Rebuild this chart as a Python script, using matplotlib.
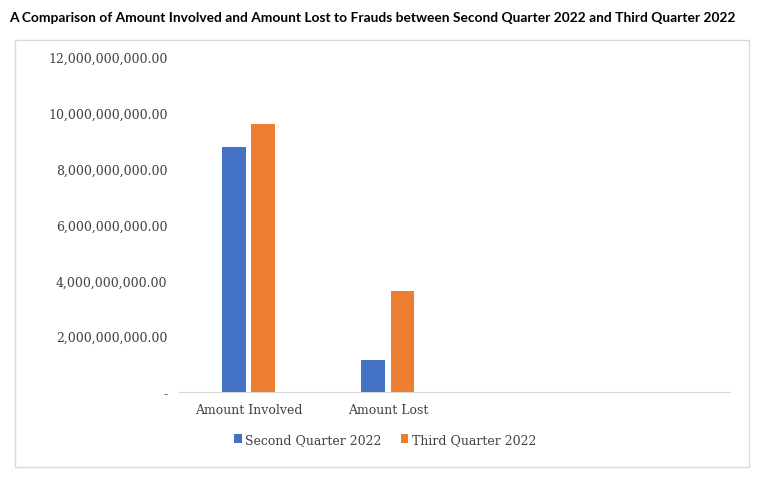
import matplotlib
matplotlib.use("Agg")
import matplotlib.pyplot as plt
import numpy as np
from matplotlib.ticker import FuncFormatter

categories = ["Amount Involved", "Amount Lost", "", ""]
q2_values = [8.78e9, 1.15e9, 0, 0]
q3_values = [9.6e9, 3.6e9, 0, 0]
series_names = ["Second Quarter 2022", "Third Quarter 2022"]
yticks = np.arange(0, 12.01e9, 2e9)

fig = plt.figure(figsize=(7.6, 4.85), dpi=100, facecolor="white")
fig.text(0.012, 0.962, "A Comparison of Amount Involved and Amount Lost to Frauds between Second Quarter 2022 and Third Quarter 2022",
         fontsize=9.9, fontweight="bold", family="Lato", ha="left", va="center")
fig.patches.append(plt.Rectangle((0.02, 0.035), 0.965, 0.88, transform=fig.transFigure,
                                 fill=False, edgecolor="#d9d9d9", linewidth=1))

ax = fig.add_axes([0.235, 0.19, 0.725, 0.69])
x = np.arange(len(categories))
w = 0.17
ax.bar(x - w/2 - 0.02, q2_values, w, color="#4472c4", label=series_names[0])
ax.bar(x + w/2 + 0.02, q3_values, w, color="#ed7d31", label=series_names[1])
ax.set_xlim(-0.5, 3.45)
ax.set_ylim(0, 12e9)
ax.set_yticks(yticks)
ax.yaxis.set_major_formatter(FuncFormatter(lambda v, p: "-" if v == 0 else f"{v:,.2f}"))
ax.set_xticks(x[:2])
ax.set_xticklabels(categories[:2])
for s in ["top", "right", "left"]:
    ax.spines[s].set_visible(False)
ax.spines["bottom"].set_color("#d9d9d9")
ax.tick_params(length=0, colors="#404040", pad=8)
for t in ax.get_xticklabels() + ax.get_yticklabels():
    t.set_family("DejaVu Serif")
    t.set_fontsize(9)
ax.legend(loc="upper center", bbox_to_anchor=(0.375, -0.09), ncol=2, frameon=False,
          prop={"family": "DejaVu Serif", "size": 9}, handlelength=0.6, handletextpad=0.3,
          columnspacing=1.5, labelcolor="#404040")
fig.savefig("out.png", dpi=100)
